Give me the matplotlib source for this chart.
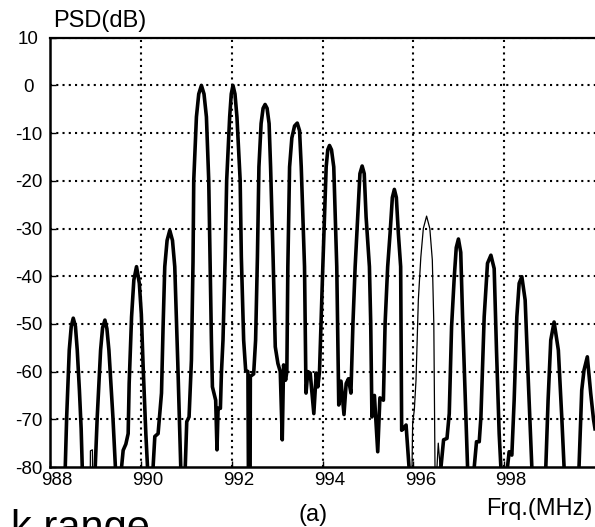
import numpy as np
import matplotlib
matplotlib.use("Agg")
import matplotlib.pyplot as plt
from matplotlib.transforms import ScaledTranslation

plt.rcParams['font.family'] = ['Liberation Sans', 'DejaVu Sans']

# Power spectral density of the comb (main trace), frequency in MHz, level in dB
freq_main = [
    988.319, 988.336, 988.367, 988.424, 988.468, 988.512, 988.560, 988.600, 988.648, 988.686, 988.710, 988.725,
    988.978, 988.996, 989.040, 989.114, 989.158, 989.209, 989.253, 989.297, 989.385, 989.440, 989.455,
    989.560, 989.576, 989.611, 989.670, 989.721, 989.743, 989.796, 989.846, 989.905, 989.967, 990.011,
    990.051, 990.110, 990.147, 990.160,
    990.257, 990.270, 990.308, 990.380, 990.455, 990.490, 990.527, 990.578, 990.637, 990.697, 990.747,
    990.813, 990.879, 990.892,
    990.967, 990.978, 991.011, 991.062, 991.114, 991.149, 991.165, 991.224, 991.275, 991.334, 991.391,
    991.444, 991.495, 991.523, 991.554, 991.576, 991.648, 991.677, 991.701, 991.752, 991.774, 991.809,
    991.857,
    991.890, 991.956, 991.991, 992.029, 992.073, 992.116, 992.187, 992.213, 992.264, 992.308, 992.358,
    992.378, 992.402, 992.411, 992.484, 992.527, 992.567,
    992.600, 992.648, 992.692, 992.736, 992.780, 992.824, 992.857, 992.912, 992.960, 993.018, 993.070,
    993.114, 993.143, 993.187, 993.215, 993.237,
    993.275, 993.325, 993.385, 993.444, 993.495, 993.532, 993.604, 993.637, 993.677, 993.729, 993.809,
    993.862, 993.897, 993.934, 994.007,
    994.081, 994.116, 994.154, 994.198, 994.248, 994.314, 994.358, 994.407, 994.473, 994.521, 994.571,
    994.626, 994.670, 994.719,
    994.776, 994.824, 994.873, 994.919, 994.960, 995.033, 995.062, 995.088, 995.143, 995.216, 995.264,
    995.341, 995.378, 995.435,
    995.488, 995.538, 995.582, 995.626, 995.670, 995.721, 995.743, 995.780, 995.840, 995.905, 995.919,
    np.nan,
    996.598, 996.609, 996.666, 996.741, 996.791, 996.842, 996.901, 996.945, 996.993, 997.044, 997.084,
    997.158, 997.194, 997.204,
    997.330, 997.341, 997.391, 997.451, 997.488, 997.560, 997.633, 997.708, 997.780, 997.831, 997.890,
    997.927, 997.938,
    998.062, 998.073, 998.110, 998.169, 998.220, 998.279, 998.330, 998.389, 998.462, 998.534, 998.609,
    998.620,
    998.906, 998.917, 998.967, 999.026, 999.099, 999.193, 999.268, 999.319, 999.330,
    999.637, 999.648, 999.708, 999.758, 999.831, 999.905, 999.967, 1000.000,
]
psd_main = [
    -100, -80, -69.5, -55.5, -50.5, -48.8, -50.5, -55.5, -64, -72, -80, -100,
    -100, -80, -69.5, -55.5, -50.8, -49.2, -51, -55.5, -69.5, -80, -100,
    -100, -80, -76.5, -75.2, -73, -62.5, -48.5, -40.8, -38, -41.5, -48,
    -59, -73, -80, -100,
    -100, -80, -73.6, -73, -64.5, -50.6, -38, -32.5, -30.4, -32.5, -38,
    -58, -80, -100,
    -100, -80, -70.5, -69.5, -57.6, -37, -19.9, -6.6, -1.8, 0, -1.8,
    -6.6, -19.9, -36, -53.4, -63.2, -66, -76.4, -67.7, -67.7, -60.4, -53.4,
    -36,
    -19.9, -6.6, -1.8, 0, -1.8, -6.6, -19.9, -36, -53.4, -59.7, -60,
    -100, -100, -61, -60.5, -53.4, -36,
    -17.1, -8, -4.8, -4, -4.8, -8, -17.1, -36, -54.8, -58.3, -60,
    -74.3, -58.6, -61.8, -60, -38,
    -17.1, -11, -8.5, -7.9, -9.5, -17.1, -38, -64.5, -60, -60.3, -68.8,
    -60.3, -63.2, -60, -38,
    -17.1, -13.5, -12.6, -13.5, -17.1, -38, -67, -62, -69, -62.5, -61.5,
    -64.5, -50, -38,
    -27.6, -18.5, -16.9, -18.5, -27.6, -38, -50, -69.5, -65, -76.8, -65.5,
    -66, -50, -38,
    -31, -23.5, -21.8, -23.5, -31, -38, -72.3, -72, -71.2, -80, -100,
    np.nan,
    -100, -80, -74.3, -74, -68.8, -50.6, -40.2, -34, -32.2, -35, -48.5,
    -69.5, -80, -100,
    -100, -80, -74.7, -74.7, -69.5, -48.5, -37.3, -35.6, -38.4, -55.5, -73,
    -80, -100,
    -100, -80, -76.8, -77.5, -66, -48.5, -41.5, -40.1, -45, -62.5, -80,
    -100,
    -100, -80, -66, -53.4, -49.6, -55.5, -69.5, -80, -100,
    -100, -80, -63.9, -59.7, -56.9, -64.5, -70, -72,
]

# Weaker trace segments
freq_weak = [
    988.886, 988.890, 988.934, 988.938,
    np.nan,
    995.941, 995.985, 996.022, 996.059, 996.110, 996.165, 996.220, 996.292, 996.363, 996.418, 996.451,
    996.477, 996.488, 996.521, 996.549, 996.578, 996.593,
]
psd_weak = [
    -82, -76.6, -76.4, -82,
    np.nan,
    -100, -70.8, -68, -61.8, -45, -36, -30, -27.4, -30, -36.6, -50,
    -80, -100, -80, -75, -78.5, -82,
]

x_ticks = [988, 990, 992, 994, 996, 998]
y_ticks = [10, 0, -10, -20, -30, -40, -50, -60, -70, -80]
x_grid = [990, 992, 994, 996, 998]

W, H = 595, 527
fig = plt.figure(figsize=(W / 100, H / 100), dpi=100)
ax = fig.add_axes([50 / W, 60 / H, 545 / W, 429.3 / H])

ax.set_xlim(988, 1000)
ax.set_ylim(-80, 10)

dot = (0, (1, 2))
for g in x_grid:
    ax.axvline(g, color='black', lw=1.5, ls=dot, zorder=1)
for g in y_ticks[:-1]:
    ax.axhline(g, color='black', lw=1.5, ls=dot, zorder=1)

ax.plot(freq_main, psd_main, color='black', lw=2.6, solid_joinstyle='round', zorder=3)
ax.plot(freq_weak, psd_weak, color='black', lw=0.9, zorder=3)

ax.set_xticks(x_ticks)
ax.set_xticklabels([str(v) for v in x_ticks])
ax.set_yticks(y_ticks)
ax.set_yticklabels([str(v) for v in y_ticks])
ax.tick_params(axis='both', direction='in', length=4, width=1, labelsize=13.5, colors='black')
ax.tick_params(axis='x', pad=3.5)
ax.tick_params(axis='y', pad=15.5)
for lbl in ax.get_yticklabels():
    lbl.set_horizontalalignment('center')
shift = ScaledTranslation(7 / 100, 0, fig.dpi_scale_trans)
for lbl in ax.get_xticklabels():
    lbl.set_transform(lbl.get_transform() + shift)

for side in ('left', 'bottom'):
    ax.spines[side].set_linewidth(1.8)
ax.spines['right'].set_visible(False)
ax.spines['top'].set_linewidth(1.6)
ax.spines['top'].set_linestyle((0, (2, 1)))

fig.text(53 / W, 1 - 27 / H, 'PSD(dB)', fontsize=17, ha='left', va='baseline')
fig.text(593 / W, 1 - 515.5 / H, 'Frq.(MHz)', fontsize=17, ha='right', va='baseline')
fig.text(313 / W, 1 - 521 / H, '(a)', fontsize=17, ha='center', va='baseline')
fig.text(150 / W, 1 - 540 / H, 'k range', fontsize=30, ha='right', va='baseline')

fig.savefig('out.png', dpi=100)
